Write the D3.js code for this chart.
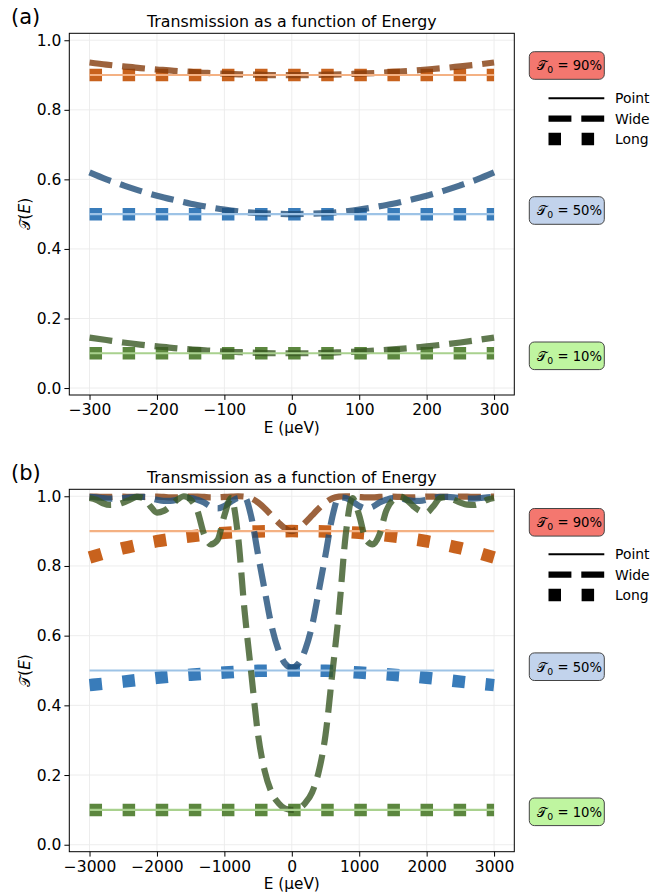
<!DOCTYPE html>
<html>
<head>
<meta charset="utf-8">
<script src="https://cdn.jsdelivr.net/npm/d3@7"></script>
<style>
  body { margin: 0; background: #fff; }
  svg text { font-family: "DejaVu Sans", sans-serif; fill: #000; }
</style>
</head>
<body>
<svg id="fig" width="660" height="893"></svg>
<script>
// levels and colours, one per T0
const levels = ["90%", "50%", "10%"];
const pointColors = ["#f4b183", "#9dc3e6", "#a9d18e"];
const wideColors = ["#843c0c", "#1f4e79", "#385723"];
const longColors = ["#c55a11", "#2e75b6", "#538135"];
const boxColors = ["#f4776f", "#c2d3ec", "#bff5a0"];
const legendNames = ["Point", "Wide", "Long"];

// panel (a): -300..300 ueV
const xTicksA = [-300, -200, -100, 0, 100, 200, 300];
const energyA = [-300, -275, -250, -225, -200, -175, -150, -125, -100, -75, -50, -25, 0,
                 25, 50, 75, 100, 125, 150, 175, 200, 225, 250, 275, 300];
const energyACoarse = [-300, -250, -200, -150, -100, -50, 0, 50, 100, 150, 200, 250, 300];
const pointA = [
  [0.9, 0.9, 0.9, 0.9, 0.9, 0.9, 0.9, 0.9, 0.9, 0.9, 0.9, 0.9, 0.9],
  [0.5, 0.5, 0.5, 0.5, 0.5, 0.5, 0.5, 0.5, 0.5, 0.5, 0.5, 0.5, 0.5],
  [0.1, 0.1, 0.1, 0.1, 0.1, 0.1, 0.1, 0.1, 0.1, 0.1, 0.1, 0.1, 0.1]
];
const wideA = [
  [0.936, 0.930, 0.925, 0.920, 0.916, 0.912, 0.909, 0.906, 0.904, 0.902, 0.901, 0.900, 0.900,
   0.900, 0.901, 0.902, 0.904, 0.906, 0.909, 0.912, 0.916, 0.920, 0.925, 0.930, 0.936],
  [0.620, 0.600, 0.583, 0.567, 0.553, 0.541, 0.530, 0.521, 0.513, 0.507, 0.503, 0.501, 0.500,
   0.501, 0.503, 0.507, 0.513, 0.521, 0.530, 0.541, 0.553, 0.567, 0.583, 0.600, 0.620],
  [0.145, 0.138, 0.131, 0.125, 0.120, 0.115, 0.111, 0.108, 0.105, 0.103, 0.101, 0.100, 0.100,
   0.100, 0.101, 0.103, 0.105, 0.108, 0.111, 0.115, 0.120, 0.125, 0.131, 0.138, 0.145]
];
const longA = [
  [0.9, 0.9, 0.9, 0.9, 0.9, 0.9, 0.9, 0.9, 0.9, 0.9, 0.9, 0.9, 0.9],
  [0.5, 0.5, 0.5, 0.5, 0.5, 0.5, 0.5, 0.5, 0.5, 0.5, 0.5, 0.5, 0.5],
  [0.1, 0.1, 0.1, 0.1, 0.1, 0.1, 0.1, 0.1, 0.1, 0.1, 0.1, 0.1, 0.1]
];

// panel (b): -3000..3000 ueV
const xTicksB = [-3000, -2000, -1000, 0, 1000, 2000, 3000];
const energyB = d3.range(-3000, 3001, 100); // 61 sample energies
const energyBCoarse = [-3000, -2500, -2000, -1500, -1000, -500, 0, 500, 1000, 1500, 2000, 2500, 3000];
const pointB = pointA;
const wideB = [
  [0.999, 0.999, 0.998, 0.998, 0.999, 0.999, 0.998, 0.998, 0.998, 0.999, 0.999,
   0.998, 0.997, 0.997, 0.998, 0.999, 0.999, 0.998, 0.997, 0.997, 0.998,
   0.999, 1.000, 0.999, 0.994, 0.982, 0.965, 0.945, 0.925, 0.908, 0.900,
   0.908, 0.925, 0.945, 0.965, 0.982, 0.994, 0.999, 1.000, 0.999, 0.998,
   0.997, 0.997, 0.998, 0.999, 0.999, 0.998, 0.997, 0.997, 0.998, 0.999,
   0.999, 0.998, 0.998, 0.998, 0.999, 0.999, 0.998, 0.998, 0.999, 0.999],
  [0.998, 0.997, 0.995, 0.993, 0.993, 0.995, 0.997, 0.998, 0.998, 0.995, 0.990,
   0.987, 0.987, 0.990, 0.995, 0.995, 0.990, 0.982, 0.970, 0.965, 0.972,
   0.985, 0.995, 0.997, 0.940, 0.832, 0.728, 0.628, 0.560, 0.520, 0.508,
   0.520, 0.560, 0.628, 0.728, 0.832, 0.940, 0.997, 0.995, 0.985, 0.972,
   0.965, 0.970, 0.982, 0.990, 0.995, 0.995, 0.990, 0.987, 0.987, 0.990,
   0.995, 0.998, 0.998, 0.997, 0.995, 0.993, 0.993, 0.995, 0.997, 0.998],
  [0.995, 0.990, 0.980, 0.975, 0.976, 0.982, 0.990, 0.998, 0.995, 0.972, 0.953,
   0.958, 0.972, 0.990, 1.000, 0.990, 0.958, 0.890, 0.862, 0.875, 0.945,
   0.995, 0.890, 0.670, 0.490, 0.315, 0.210, 0.150, 0.120, 0.104, 0.100,
   0.104, 0.120, 0.150, 0.210, 0.315, 0.490, 0.670, 0.890, 0.995, 0.945,
   0.875, 0.862, 0.890, 0.958, 0.990, 1.000, 0.990, 0.972, 0.958, 0.953,
   0.972, 0.995, 0.998, 0.990, 0.982, 0.976, 0.975, 0.980, 0.990, 0.995]
];
const longB = [
  [0.824, 0.851, 0.871, 0.885, 0.895, 0.899, 0.900, 0.899, 0.895, 0.885, 0.871, 0.851, 0.824],
  [0.458, 0.468, 0.479, 0.488, 0.494, 0.499, 0.500, 0.499, 0.494, 0.488, 0.479, 0.468, 0.458],
  [0.100, 0.100, 0.100, 0.100, 0.100, 0.100, 0.100, 0.100, 0.100, 0.100, 0.100, 0.100, 0.100]
];

const svg = d3.select("#fig");
const fsTitle = 15.8, fsTick = 15.5, fsLabel = 15.3, fsSmall = 13.9;
const left = 69.3, right = 514.3;

function calT(sel, size) {
  // script T, as matplotlib \mathcal{T}
  sel.append("tspan").attr("font-size", size).text("\u{1D4AF}");
}

function drawPanel(p) {
  const x = d3.scaleLinear().domain(p.xDomain).range([left, right]);
  const y = d3.scaleLinear().domain([-0.02, 1.02]).range([p.bottom, p.top]);
  const g = svg.append("g");
  const yTicks = [0, 0.2, 0.4, 0.6, 0.8, 1.0];

  // grid
  g.append("g").selectAll("line").data(p.xTicks).enter().append("line")
    .attr("x1", d => x(d)).attr("x2", d => x(d))
    .attr("y1", p.top).attr("y2", p.bottom)
    .attr("stroke", "#ebebeb").attr("stroke-width", 0.9);
  g.append("g").selectAll("line").data(yTicks).enter().append("line")
    .attr("x1", left).attr("x2", right)
    .attr("y1", d => y(d)).attr("y2", d => y(d))
    .attr("stroke", "#ebebeb").attr("stroke-width", 0.9);

  // curves: long (dotted), wide (dashed), point (solid)
  const line = (xs) => d3.line()
    .x((d, i) => x(xs[i])).y(d => y(d))
    .curve(d3.curveMonotoneX);
  for (let k = 0; k < 3; k++) {
    g.append("path").datum(p.long[k])
      .attr("d", line(p.energyCoarse))
      .attr("fill", "none").attr("stroke", longColors[k])
      .attr("stroke-width", 12.5).attr("stroke-dasharray", "12.5,20.6")
      .attr("stroke-linecap", "butt").attr("opacity", 0.95);
    g.append("path").datum(p.wide[k])
      .attr("d", line(p.energy))
      .attr("fill", "none").attr("stroke", wideColors[k])
      .attr("stroke-width", 6.2).attr("stroke-dasharray", "22.9,9.9")
      .attr("stroke-linecap", "butt").attr("opacity", 0.8);
    g.append("path").datum(p.point[k])
      .attr("d", line(p.energyCoarse))
      .attr("fill", "none").attr("stroke", pointColors[k])
      .attr("stroke-width", 2.1);
  }

  // axes
  const ax = g.append("g").attr("transform", `translate(0,${p.bottom})`)
    .call(d3.axisBottom(x).tickValues(p.xTicks).tickSize(4.9).tickSizeOuter(0).tickPadding(4)
      .tickFormat(d3.format("d")));
  const ay = g.append("g").attr("transform", `translate(${left},0)`)
    .call(d3.axisLeft(y).tickValues(yTicks).tickSize(4.9).tickSizeOuter(0).tickPadding(3)
      .tickFormat(d3.format(".1f")));
  [ax, ay].forEach(a => {
    a.attr("font-family", null).attr("font-size", fsTick);
    a.select(".domain").remove();
    a.selectAll(".tick line").attr("stroke", "#000").attr("stroke-width", 1);
  });
  g.append("rect").attr("x", left).attr("y", p.top)
    .attr("width", right - left).attr("height", p.bottom - p.top)
    .attr("fill", "none").attr("stroke", "#000").attr("stroke-width", 1);

  // title, panel letter, axis labels
  g.append("text").attr("x", (left + right) / 2).attr("y", p.top - 6.5)
    .attr("text-anchor", "middle").attr("font-size", fsTitle)
    .text("Transmission as a function of Energy");
  g.append("text").attr("x", 11).attr("y", p.top - 9.5)
    .attr("font-size", 21).text(p.letter);
  g.append("text").attr("x", (left + right) / 2).attr("y", p.bottom + 37.5)
    .attr("text-anchor", "middle").attr("font-size", fsLabel).text("E (\u03BCeV)");
  const yl = g.append("text")
    .attr("transform", `translate(30,${(p.top + p.bottom) / 2}) rotate(-90)`)
    .attr("text-anchor", "middle").attr("font-size", fsLabel);
  calT(yl, fsLabel);
  yl.append("tspan").text("(");
  yl.append("tspan").attr("font-style", "italic").text("E");
  yl.append("tspan").text(")");

  // T0 boxes
  levels.forEach((lv, k) => {
    const cy = p.boxY[k];
    g.append("rect").attr("x", 529.3).attr("y", cy - 13.8)
      .attr("width", 75).attr("height", 27.6).attr("rx", 5)
      .attr("fill", boxColors[k]).attr("stroke", "#444").attr("stroke-width", 1);
    const t = g.append("text").attr("x", 537.3).attr("y", cy + 4.8).attr("font-size", 13.2);
    calT(t, 13.2);
    t.append("tspan").attr("font-size", 9.3).attr("dy", 3).text("0");
    t.append("tspan").attr("dy", -3).text(" = " + lv);
  });

  // style legend
  const ly = p.legendY;
  const lg = g.append("g");
  const dashes = [null, "22.9,9.9", "12.5,20.6"];
  const widths = [2.1, 6.2, 12.5];
  legendNames.forEach((nm, k) => {
    lg.append("line").attr("x1", 548.5).attr("x2", 604.3)
      .attr("y1", ly + k * 20.4).attr("y2", ly + k * 20.4)
      .attr("stroke", "#000").attr("stroke-width", widths[k])
      .attr("stroke-dasharray", dashes[k]);
    lg.append("text").attr("x", 615).attr("y", ly + k * 20.4 + 4.8)
      .attr("font-size", fsSmall).text(nm);
  });
}

drawPanel({
  letter: "(a)", top: 33.3, bottom: 395, xDomain: [-330, 330], xTicks: xTicksA,
  energy: energyA, energyCoarse: energyACoarse,
  point: pointA, wide: wideA, long: longA,
  boxY: [65.5, 210.5, 355.8], legendY: 98.3
});
drawPanel({
  letter: "(b)", top: 489.3, bottom: 851.7, xDomain: [-3300, 3300], xTicks: xTicksB,
  energy: energyB, energyCoarse: energyBCoarse,
  point: pointB, wide: wideB, long: longB,
  boxY: [522.3, 666.7, 811.8], legendY: 554.3
});
</script>
</body>
</html>
